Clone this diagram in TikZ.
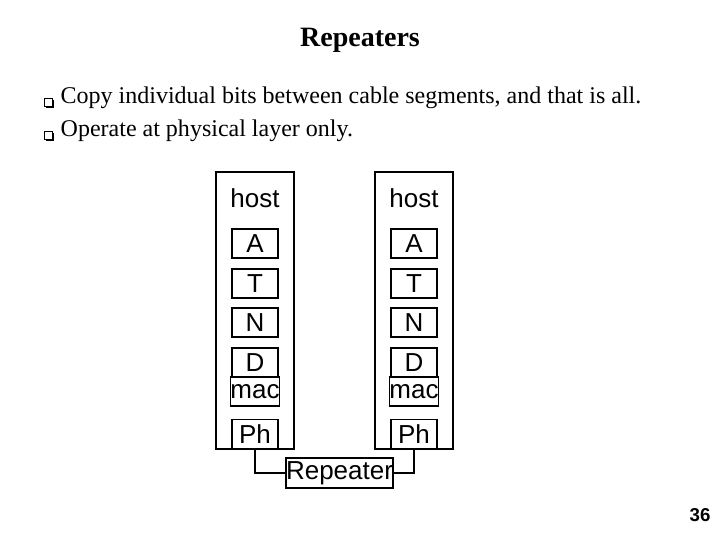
\documentclass[tikz,border=0pt]{standalone}
\usepackage{fontspec}
\setmainfont{Liberation Serif}
\setsansfont{Liberation Sans}
\usetikzlibrary{positioning}
\tikzset{host/.style={draw,thick,minimum width=58.5pt,minimum height=207.75pt,inner sep=0pt},
         layer/.style={draw,thick,minimum width=34.5pt,minimum height=21.75pt,inner sep=0pt,
                       font=\sffamily\fontsize{19.5}{19.5}\selectfont},
         bul/.style={draw,fill=white,minimum size=6pt,inner sep=0pt}}
\begin{document}
\begin{tikzpicture}[x=0.75pt,y=-0.75pt]
    \useasboundingbox (0,0) rectangle (720,540);
    \node[font=\bfseries\fontsize{21}{21}\selectfont] (title) at (360,40) {Repeaters};
    \foreach \t [count=\i] in {{Copy individual bits between cable segments, and that is all.},
                               {Operate at physical layer only.}}{%
          \fill (46,67+\i*33) rectangle (54,75+\i*33);
          \node[bul] (b\i) at (48.5,69.5+\i*33) {};
          \node[anchor=west,font=\fontsize{18}{18}\selectfont] (l\i) at (56,64.5+\i*33) {\t};
        }
    % hosts and their layers
    \foreach \s/\x in {L/255,R/414}{%
          \node[host] (h\s) at (\x,310.5) {};
          \node[font=\sffamily\fontsize{19.5}{19.5}\selectfont] (n\s) at (\x,198) {host};
          \node[layer] (a\s) at (\x,243.5) {A};
          \node[layer] (t\s) at (\x,283.5) {T};
          \node[layer] (k\s) at (\x,322.5) {N};
          \node[layer] (d\s) at (\x,362.5) {D};
          \node[layer] (m\s) at (\x,391.5) {mac};
          \node[layer] (p\s) at (\x,434) {Ph};
        }
    \node[draw,thick,minimum width=63.75pt,minimum height=22.5pt,inner sep=0pt,
          font=\sffamily\fontsize{19.5}{19.5}\selectfont] (rep) at (339.5,473) {Repeater};
    \draw[thick] (pL.south) |- (rep.west);
    \draw[thick] (pR.south) |- (rep.east);
    \node[font=\sffamily\bfseries\fontsize{14}{14}\selectfont] (page) at (700,515) {36};
\end{tikzpicture}
\end{document}
